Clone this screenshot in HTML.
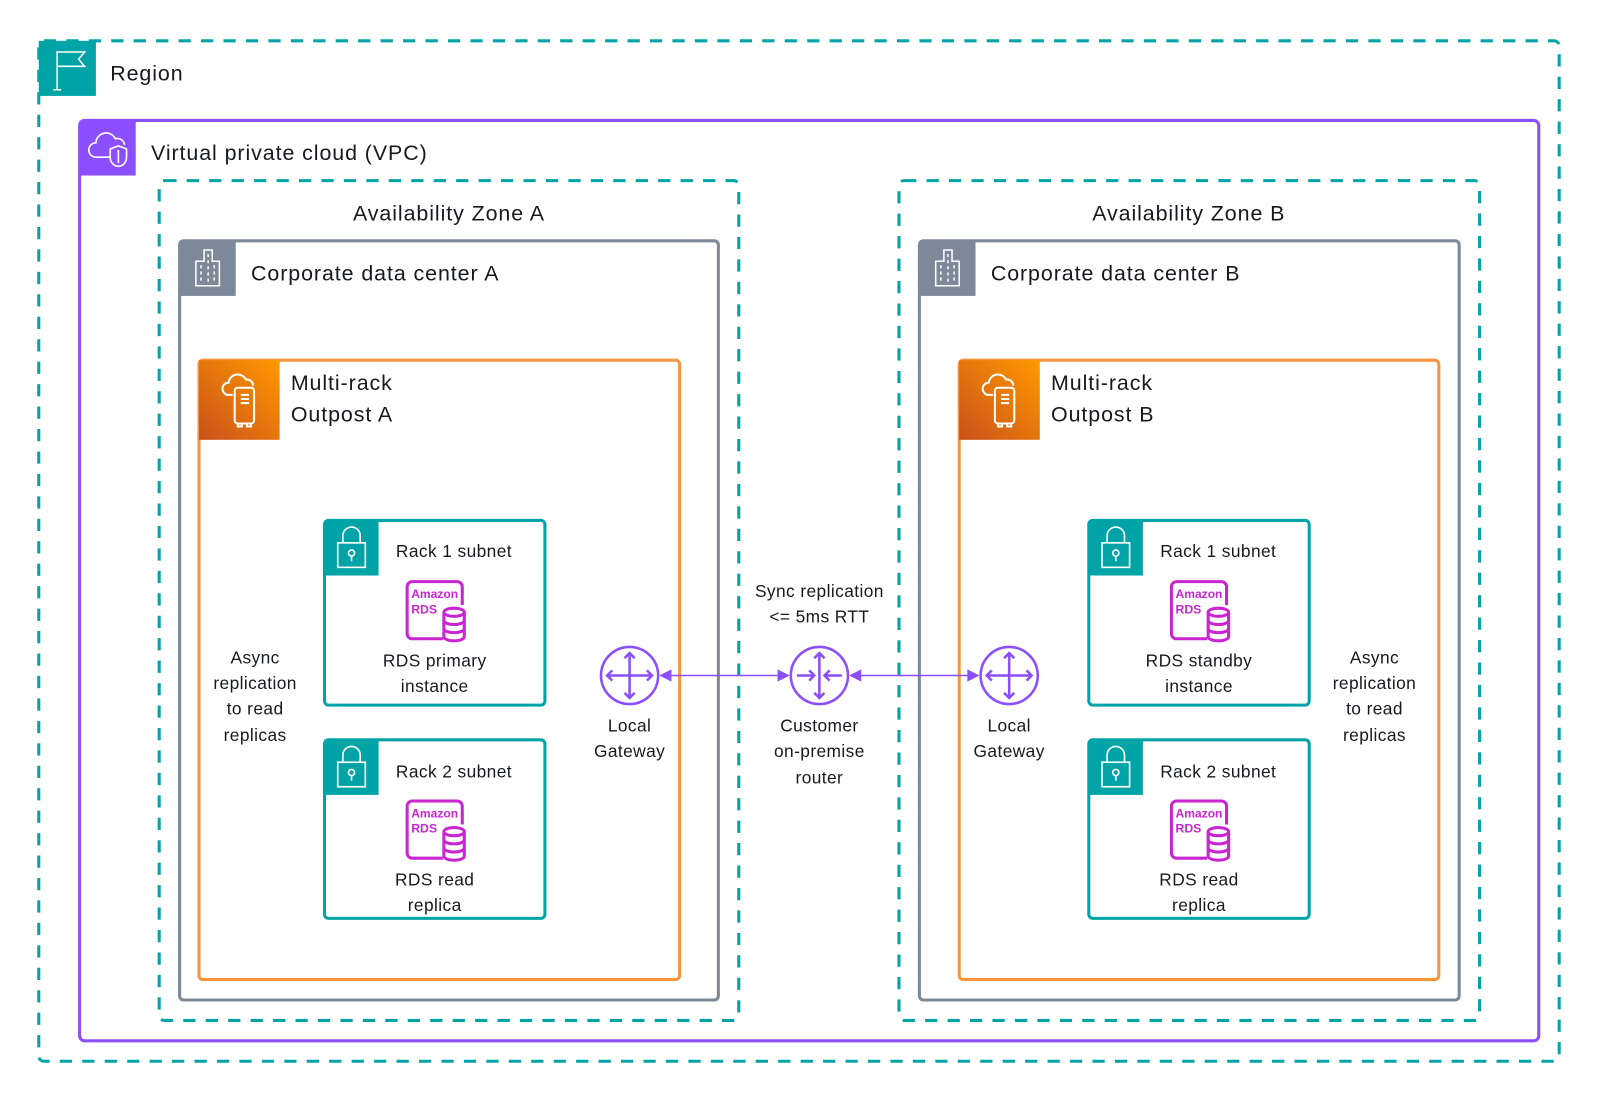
<!DOCTYPE html>
<html><head><meta charset="utf-8"><style>
html,body{margin:0;padding:0;background:#fff;}
svg{display:block;}
text{font-family:"Liberation Sans",Arial,sans-serif;fill:#16191f;}
.b{letter-spacing:0.9px;}
.s{letter-spacing:0.4px;}
</style></head><body>
<svg width="1600" height="1100" viewBox="0 0 1568 1078" xmlns="http://www.w3.org/2000/svg">
<defs>
<linearGradient id="og" x1="0" y1="1" x2="1" y2="0"><stop offset="0" stop-color="#C8511B"/><stop offset="1" stop-color="#FF9900"/></linearGradient>
<g id="lock"><rect x="0" y="0" width="53" height="54" fill="#00A4A6"/><path d="M18 22 v-7 a8.5 8.5 0 0 1 17 0 v7" fill="none" stroke="#fff" stroke-width="1.6"/><rect x="13" y="22" width="27" height="24" fill="none" stroke="#fff" stroke-width="1.6"/><circle cx="26.5" cy="32" r="3" fill="none" stroke="#fff" stroke-width="1.6"/><line x1="26.5" y1="35" x2="26.5" y2="40" stroke="#fff" stroke-width="1.6"/></g>
<g id="rds"><rect x="1" y="1" width="54" height="56" rx="5" fill="none" stroke="#C925D1" stroke-width="3"/><rect x="36" y="24" width="24" height="36" fill="#fff"/><text x="5" y="17" font-size="12" font-weight="bold" textLength="46" lengthAdjust="spacingAndGlyphs" style="fill:#C925D1">Amazon</text><text x="5" y="32" font-size="12" font-weight="bold" style="fill:#C925D1">RDS</text><g fill="none" stroke="#C925D1" stroke-width="3"><ellipse cx="47" cy="31" rx="10" ry="4"/><path d="M37 31 v24 a10 4 0 0 0 20 0 v-24"/><path d="M37 39 a10 4 0 0 0 20 0 M37 47 a10 4 0 0 0 20 0"/></g></g>
<g id="gw" fill="none" stroke="#8C4FFF" stroke-width="2.5"><circle cx="0" cy="0" r="28"/><path d="M0 -22 v44 M-22 0 h44 M-5 -17 l5 -5 5 5 M-5 17 l5 5 5 -5 M-17 -5 l-5 5 5 5 M17 -5 l5 5 -5 5"/></g>
<g id="bld"><rect x="0" y="0" width="55" height="54" fill="#7D8998"/><path d="M16 44 v-24 h8 v-11 h8 v11 h7 v24 z" fill="none" stroke="#fff" stroke-width="1.5"/><g stroke="#fff" stroke-width="1.5" stroke-dasharray="3,3"><line x1="21" y1="24" x2="21" y2="42"/><line x1="28" y1="13" x2="28" y2="42"/><line x1="34" y1="24" x2="34" y2="42"/></g></g>
<g id="out"><rect x="0" y="0" width="79" height="78" fill="url(#og)"/><g fill="none" stroke="#fff" stroke-width="2"><path d="M33 34 h-4 a6 6 0 0 1 0-12 a9 9 0 0 1 17-3 a6 6 0 0 1 7 6"/><rect x="35" y="27" width="19" height="35" rx="3"/><path d="M41 34 h8 M41 38 h8 M41 42 h8 M38 62 v3 h4 v-3 M47 62 v3 h4 v-3"/></g></g>
</defs>

<rect x="38" y="40" width="1490" height="1000" rx="5" fill="none" stroke="#00A4A6" stroke-width="3" stroke-dasharray="12,10"/>
<rect x="38" y="40" width="56" height="54" fill="#00A4A6"/>
<g fill="none" stroke="#fff" stroke-width="1.5"><path d="M56 88 v-38 M52 88 h8 M56 51 h27 l-6 7 6 7 h-27"/></g>
<text class="b" x="108" y="79" font-size="21">Region</text>

<rect x="78" y="118" width="1430" height="902" rx="5" fill="none" stroke="#8C4FFF" stroke-width="3"/>
<rect x="78" y="118" width="55" height="54" fill="#8C4FFF"/>
<g fill="none" stroke="#fff" stroke-width="1.6"><path d="M108 154 h-14 a7 7 0 0 1 0-14 a10 10 0 0 1 19-4 a7 7 0 0 1 9 6"/><path d="M116 143 l8 3 v8 a8 9 0 0 1 -8 9 a8 9 0 0 1 -8 -9 v-8 z"/><line x1="116" y1="147" x2="116" y2="160"/></g>
<text class="b" x="148" y="157" font-size="21">Virtual private cloud (VPC)</text>

<rect x="156" y="177" width="568" height="823" rx="5" fill="none" stroke="#00A4A6" stroke-width="3" stroke-dasharray="12,10"/>
<text class="b" x="440" y="216" font-size="21" text-anchor="middle">Availability Zone A</text>
<rect x="176" y="236" width="528" height="744" rx="4" fill="none" stroke="#7D8998" stroke-width="3"/>
<use href="#bld" x="176" y="236"/>
<text class="b" x="246" y="275" font-size="21">Corporate data center A</text>
<rect x="195" y="353" width="471" height="607" rx="4" fill="none" stroke="#F7953A" stroke-width="3"/>
<use href="#out" x="195" y="353"/>
<text class="b" x="285" y="382" font-size="21">Multi-rack</text>
<text class="b" x="285" y="413" font-size="21">Outpost A</text>

<rect x="318" y="510" width="216" height="181" rx="4" fill="none" stroke="#00A4A6" stroke-width="3"/>
<use href="#lock" x="318" y="510"/>
<text class="s" x="388" y="546" font-size="17">Rack 1 subnet</text>
<use href="#rds" x="398" y="569"/>
<text class="s" x="426" y="653" font-size="17" text-anchor="middle">RDS primary</text>
<text class="s" x="426" y="678" font-size="17" text-anchor="middle">instance</text>

<rect x="318" y="725" width="216" height="175" rx="4" fill="none" stroke="#00A4A6" stroke-width="3"/>
<use href="#lock" x="318" y="725"/>
<text class="s" x="388" y="762" font-size="17">Rack 2 subnet</text>
<use href="#rds" x="398" y="784"/>
<text class="s" x="426" y="868" font-size="17" text-anchor="middle">RDS read</text>
<text class="s" x="426" y="893" font-size="17" text-anchor="middle">replica</text>

<g class="s" font-size="17" text-anchor="middle"><text x="250" y="650">Async</text><text x="250" y="675">replication</text><text x="250" y="700">to read</text><text x="250" y="726">replicas</text></g>

<rect x="881" y="177" width="569" height="823" rx="5" fill="none" stroke="#00A4A6" stroke-width="3" stroke-dasharray="12,10"/>
<text class="b" x="1165" y="216" font-size="21" text-anchor="middle">Availability Zone B</text>
<rect x="901" y="236" width="529" height="744" rx="4" fill="none" stroke="#7D8998" stroke-width="3"/>
<use href="#bld" x="901" y="236"/>
<text class="b" x="971" y="275" font-size="21">Corporate data center B</text>
<rect x="940" y="353" width="470" height="607" rx="4" fill="none" stroke="#F7953A" stroke-width="3"/>
<use href="#out" x="940" y="353"/>
<text class="b" x="1030" y="382" font-size="21">Multi-rack</text>
<text class="b" x="1030" y="413" font-size="21">Outpost B</text>

<rect x="1067" y="510" width="216" height="181" rx="4" fill="none" stroke="#00A4A6" stroke-width="3"/>
<use href="#lock" x="1067" y="510"/>
<text class="s" x="1137" y="546" font-size="17">Rack 1 subnet</text>
<use href="#rds" x="1147" y="569"/>
<text class="s" x="1175" y="653" font-size="17" text-anchor="middle">RDS standby</text>
<text class="s" x="1175" y="678" font-size="17" text-anchor="middle">instance</text>

<rect x="1067" y="725" width="216" height="175" rx="4" fill="none" stroke="#00A4A6" stroke-width="3"/>
<use href="#lock" x="1067" y="725"/>
<text class="s" x="1137" y="762" font-size="17">Rack 2 subnet</text>
<use href="#rds" x="1147" y="784"/>
<text class="s" x="1175" y="868" font-size="17" text-anchor="middle">RDS read</text>
<text class="s" x="1175" y="893" font-size="17" text-anchor="middle">replica</text>

<g class="s" font-size="17" text-anchor="middle"><text x="1347" y="650">Async</text><text x="1347" y="675">replication</text><text x="1347" y="700">to read</text><text x="1347" y="726">replicas</text></g>

<line x1="655" y1="662" x2="768" y2="662" stroke="#8C4FFF" stroke-width="1.5"/>
<line x1="838" y1="662" x2="951" y2="662" stroke="#8C4FFF" stroke-width="1.5"/>
<g fill="#8C4FFF"><path d="M646 662 l12 -6 v12 z"/><path d="M774 662 l-12 -6 v12 z"/><path d="M832 662 l12 -6 v12 z"/><path d="M960 662 l-12 -6 v12 z"/></g>
<use href="#gw" x="617" y="662"/>
<use href="#gw" x="989" y="662"/>
<g fill="none" stroke="#8C4FFF" stroke-width="2.5"><circle cx="803" cy="662" r="28"/><path d="M803 640 v44 M781 662 h17 M808 662 h17 M793 657 l5 5 -5 5 M813 657 l-5 5 5 5 M798 645 l5 -5 5 5 M798 679 l5 5 5 -5"/></g>
<g class="s" font-size="17" text-anchor="middle">
<text x="617" y="717">Local</text><text x="617" y="742">Gateway</text>
<text x="989" y="717">Local</text><text x="989" y="742">Gateway</text>
<text x="803" y="585">Sync replication</text><text x="803" y="610">&lt;= 5ms RTT</text>
<text x="803" y="717">Customer</text><text x="803" y="742">on-premise</text><text x="803" y="768">router</text>
</g>
</svg>
</body></html>
